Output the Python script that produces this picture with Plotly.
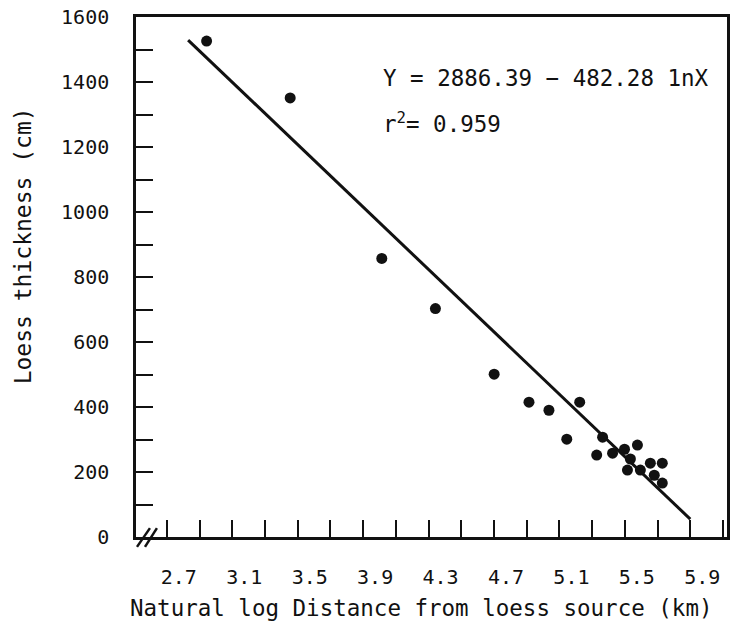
import plotly.graph_objects as go

# Data
ln_distance = [2.943, 3.454, 4.014, 4.342, 4.701, 4.914, 5.036, 5.224, 5.145, 5.364,
               5.328, 5.425, 5.498, 5.577, 5.534, 5.516, 5.595, 5.656, 5.729, 5.680, 5.729]
thickness = [1526, 1351, 857, 703, 501, 415, 390, 415, 301, 307,
             252, 258, 270, 283, 240, 206, 206, 227, 227, 190, 166]
fit_x = [2.83, 5.9]
fit_y = [1529, 55]
x_tick_vals = [2.7, 3.1, 3.5, 3.9, 4.3, 4.7, 5.1, 5.5, 5.9]
x_tick_text = ["2.7", "3.1", "3.5", "3.9", "4.3", "4.7", "5.1", "5.5", "5.9"]
y_tick_vals = [0, 200, 400, 600, 800, 1000, 1200, 1400, 1600]
equation_text = "Y = 2886.39 − 482.28 1nX"
r2_text = "r<sup>2</sup>= 0.959"
x_title = "Natural log Distance from loess source (km)"
y_title = "Loess thickness (cm)"

FONT = "DejaVu Sans Mono"
INK = "#111111"

fig = go.Figure()
fig.add_trace(go.Scatter(x=fit_x, y=fit_y, mode="lines",
                         line=dict(color=INK, width=3), hoverinfo="skip", showlegend=False))
fig.add_trace(go.Scatter(x=ln_distance, y=thickness, mode="markers",
                         marker=dict(color=INK, size=11), showlegend=False))

fig.update_layout(
    width=735, height=627,
    margin=dict(l=136, r=5, t=16, b=90),
    paper_bgcolor="white", plot_bgcolor="white",
    font=dict(family=FONT, color=INK, size=20),
    showlegend=False,
)
fig.update_xaxes(
    range=[2.5114, 6.1246], showgrid=False, zeroline=False,
    showline=True, linecolor=INK, linewidth=2.5, mirror=True,
    tickmode="array", tickvals=x_tick_vals, ticktext=x_tick_text,
    ticks="inside", ticklen=17, tickwidth=2, tickcolor=INK,
    minor=dict(tick0=2.7, dtick=0.2, ticks="inside", ticklen=17, tickwidth=2, tickcolor=INK),
    ticklabelstandoff=20, ticklabelshift=12,
    tickfont=dict(family=FONT, size=20, color=INK),
)
fig.update_yaxes(
    range=[0, 1600], showgrid=False, zeroline=False,
    showline=True, linecolor=INK, linewidth=2.5, mirror=True,
    tickmode="array", tickvals=y_tick_vals,
    ticks="inside", ticklen=17, tickwidth=2, tickcolor=INK,
    minor=dict(tick0=0, dtick=100, ticks="inside", ticklen=17, tickwidth=2, tickcolor=INK),
    ticklabelstandoff=20,
    tickfont=dict(family=FONT, size=20, color=INK),
)

# axis titles and equation
fig.add_annotation(text=y_title, xref="paper", yref="paper", x=-0.192, y=0.56,
                   textangle=-90, showarrow=False, font=dict(family=FONT, size=23, color=INK),
                   xanchor="center", yanchor="middle")
fig.add_annotation(text=x_title, xref="paper", yref="paper", x=0.483, y=-0.136,
                   showarrow=False, font=dict(family=FONT, size=22.5, color=INK),
                   xanchor="center", yanchor="middle")
fig.add_annotation(text=equation_text, xref="paper", yref="paper", x=(382 - 136) / 594,
                   y=(537 - 77) / 521, showarrow=False, xanchor="left", yanchor="middle",
                   font=dict(family=FONT, size=22.5, color=INK))
fig.add_annotation(text=r2_text, xref="paper", yref="paper", x=(382 - 136) / 594,
                   y=(537 - 122) / 521, showarrow=False, xanchor="left", yanchor="middle",
                   font=dict(family=FONT, size=22.5, color=INK))

# axis break marks "//"
for x0, x1 in [(0.0017, 0.0236), (0.0152, 0.0354)]:
    fig.add_shape(type="line", xref="paper", yref="paper", x0=x0, y0=-0.019, x1=x1, y1=0.017,
                  line=dict(color=INK, width=2.5))

fig.write_html("out.html")
